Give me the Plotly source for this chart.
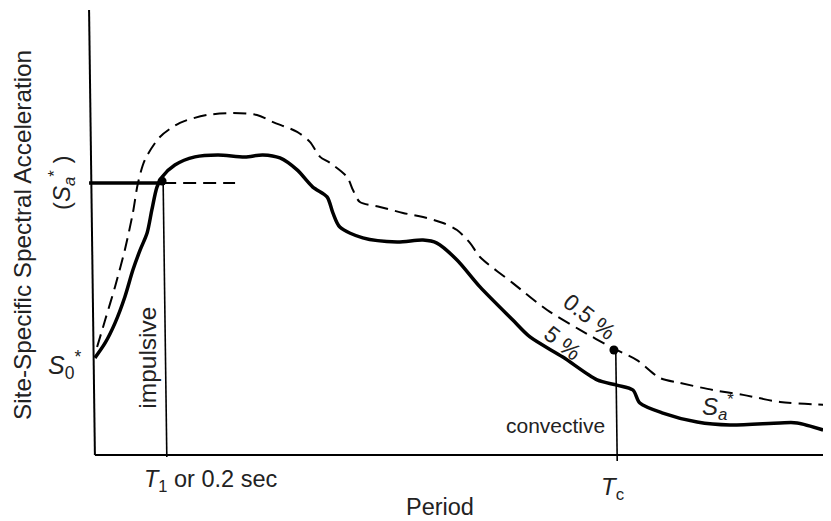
import plotly.graph_objects as go

# Schematic response spectrum: period (s) vs spectral acceleration (normalised, S_a* = 1)
period_5 = [0.008, 0.036, 0.063, 0.090, 0.112, 0.132, 0.151, 0.164, 0.178, 0.192, 0.227, 0.282,
            0.345, 0.419, 0.468, 0.515, 0.562, 0.605, 0.644, 0.660, 0.679, 0.742, 0.836, 0.907,
            0.945, 1.000, 1.063, 1.153, 1.200, 1.290, 1.384, 1.438, 1.482, 1.501, 1.564, 1.658,
            1.748, 1.885, 1.932, 2.003]
accel_5 = [0.357, 0.412, 0.485, 0.581, 0.680, 0.754, 0.816, 0.901, 0.985, 1.022, 1.066, 1.096,
           1.103, 1.096, 1.103, 1.092, 1.048, 0.985, 0.949, 0.890, 0.838, 0.798, 0.783, 0.790,
           0.779, 0.717, 0.618, 0.496, 0.434, 0.360, 0.276, 0.257, 0.239, 0.191, 0.154, 0.121,
           0.110, 0.118, 0.118, 0.092]

period_05 = [0.014, 0.036, 0.063, 0.090, 0.112, 0.126, 0.145, 0.186, 0.241, 0.315, 0.386, 0.452,
             0.496, 0.562, 0.597, 0.625, 0.652, 0.699, 0.715, 0.734, 0.789, 0.852, 0.907, 0.962,
             1.000, 1.036, 1.063, 1.153, 1.247, 1.337, 1.427, 1.493, 1.556, 1.611, 1.701, 1.784,
             1.885, 2.014]
accel_05 = [0.397, 0.496, 0.618, 0.754, 0.890, 1.000, 1.085, 1.169, 1.221, 1.250, 1.257, 1.250,
            1.224, 1.188, 1.151, 1.096, 1.074, 1.022, 0.974, 0.930, 0.912, 0.890, 0.875, 0.853,
            0.827, 0.779, 0.728, 0.632, 0.533, 0.460, 0.393, 0.349, 0.283, 0.265, 0.239, 0.221,
            0.195, 0.184]

T1 = 0.2
Tc = 1.435
Sa_star = 1.0
Sa_at_Tc = 0.386
Sa_dash_end = 0.392

FONT = "Liberation Sans, Arial, Helvetica, sans-serif"
INK = "black"
TXT = "#222222"

fig = go.Figure()

# axes drawn as lines
fig.add_trace(go.Scatter(x=[-0.008, 0.008], y=[1.636, 0.0], mode="lines",
                         line=dict(color=INK, width=2)))
fig.add_trace(go.Scatter(x=[0.008, 2.003], y=[0.0, 0.0], mode="lines",
                         line=dict(color=INK, width=2)))

# curves
fig.add_trace(go.Scatter(x=period_05, y=accel_05, mode="lines",
                         line=dict(color=INK, width=2, dash="13px,7px", shape="spline", smoothing=0.8)))
fig.add_trace(go.Scatter(x=period_5, y=accel_5, mode="lines",
                         line=dict(color=INK, width=3.5, shape="spline", smoothing=0.8)))

# S_a* horizontal line
fig.add_trace(go.Scatter(x=[-0.008, T1 - 0.005], y=[Sa_star, Sa_star], mode="lines",
                         line=dict(color=INK, width=3.5)))
fig.add_trace(go.Scatter(x=[T1 - 0.005, Sa_dash_end], y=[Sa_star, Sa_star], mode="lines",
                         line=dict(color=INK, width=2, dash="13px,7px")))

# vertical period markers
fig.add_trace(go.Scatter(x=[T1 - 0.005, T1 + 0.005], y=[Sa_star, -0.007], mode="lines",
                         line=dict(color=INK, width=1.6)))
fig.add_trace(go.Scatter(x=[Tc, Tc + 0.004], y=[Sa_at_Tc, -0.022], mode="lines",
                         line=dict(color=INK, width=1.6)))

# dots
fig.add_trace(go.Scatter(x=[T1 - 0.008, Tc - 0.005], y=[Sa_star + 0.007, Sa_at_Tc], mode="markers",
                         marker=dict(color=INK, size=9)))

def ann(x, y, text, size=23, angle=0):
    fig.add_annotation(x=x, y=y, xref="x", yref="y", text=text, showarrow=False,
                       textangle=angle, xanchor="center", yanchor="middle",
                       font=dict(family=FONT, size=size, color=TXT))

ann(-0.189, 0.809, "Site-Specific Spectral Acceleration", 24.3, -90)
ann(-0.082, 1.0, "(<i>S</i><sub><i>a</i></sub><sup>*</sup> )", 24, -90)
ann(-0.074, 0.331, "<i>S</i><sub>0</sub><sup>*</sup>", 25)
ann(0.153, 0.357, "impulsive", 24.5, -90)
ann(0.326, -0.092, "<i>T</i><sub>1</sub> or 0.2 sec", 23.5)
ann(0.953, -0.191, "Period", 23.5)
ann(1.425, -0.125, "<i>T</i><sub>c</sub>", 24)
ann(1.271, 0.110, "convective", 21)
ann(1.364, 0.507, "0.5 %", 23, 38)
ann(1.290, 0.412, "5 %", 23, 38)
ann(1.715, 0.176, "<i>S</i><sub><i>a</i></sub><sup>*</sup>", 24)

# the page body adds an 8px offset; ranges account for it so marks land where intended
fig.update_layout(
    width=831, height=521,
    margin=dict(l=0, r=0, t=0, b=0),
    showlegend=False,
    paper_bgcolor="white", plot_bgcolor="white",
    xaxis=dict(range=[-0.2301, 2.0466], visible=False, fixedrange=True),
    yaxis=dict(range=[-0.2721, 1.6434], visible=False, fixedrange=True),
)

fig.write_html("out.html")
